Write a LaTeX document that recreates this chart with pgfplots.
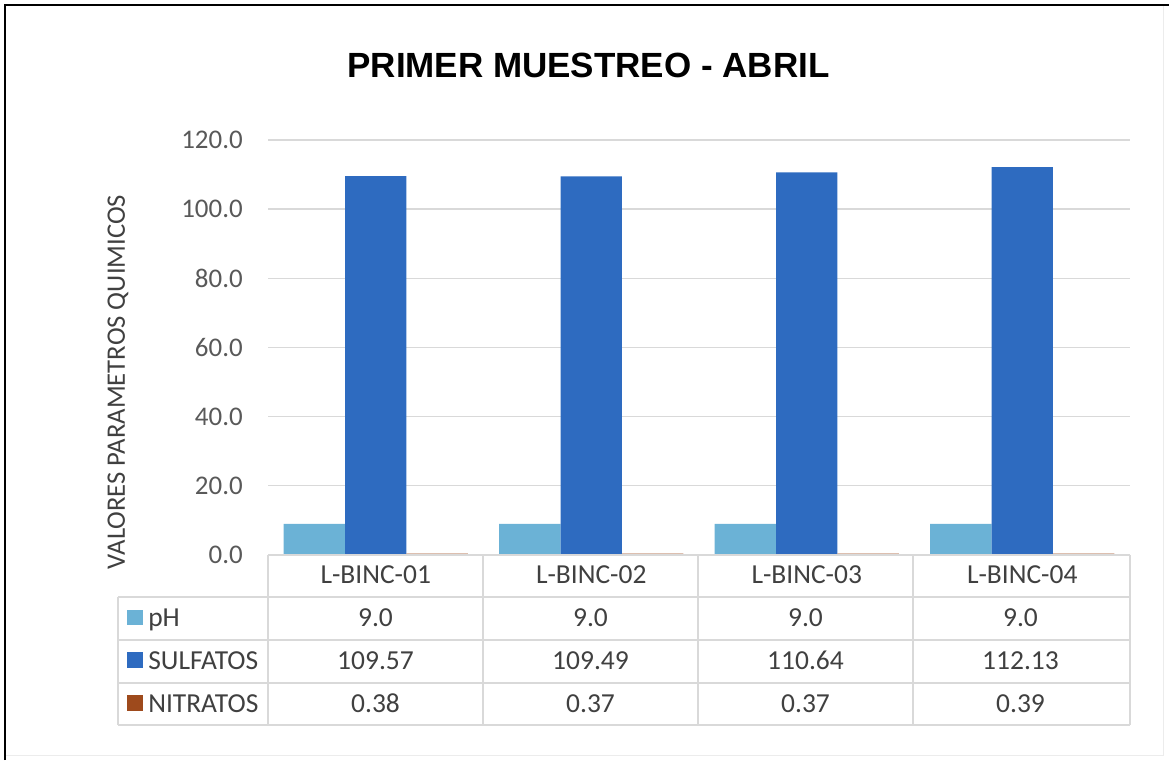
\documentclass[border=0pt]{standalone}
\usepackage{fontspec}
\setmainfont{Carlito}
\newfontfamily\titlefont{Liberation Sans}
\usepackage{pgfplots}
\usepackage{pgfplotstable}
\pgfplotsset{compat=1.18}
\definecolor{phc}{HTML}{6BB2D6}
\definecolor{sulc}{HTML}{2E6BC0}
\definecolor{nitc}{HTML}{9E4A1C}
\definecolor{gridc}{HTML}{D9D9D9}
\definecolor{txtc}{HTML}{404040}
\definecolor{tickc}{HTML}{595959}

\pgfplotstableread{
x ph sulf nitr
0 9.0 109.57 0.38
1 9.0 109.49 0.37
2 9.0 110.64 0.37
3 9.0 112.13 0.39
}\datos

\begin{document}
\begin{tikzpicture}[x=0.75pt,y=0.75pt]
\path[use as bounding box] (0,0) rectangle (1169,760);
% chart frame
\draw[gridc!50, line width=0.75pt] (5,5) -- (1163,5) -- (1163,755);
\draw[black, line width=2pt] (5,0) -- (5,755) -- (1169,755);

\node[font=\titlefont\bfseries\fontsize{26.25}{30}\selectfont, anchor=base] at (588.5,{760-78}) {PRIMER MUESTREO - ABRIL};

\begin{axis}[
    at={(201pt,153.75pt)}, anchor=south west,
    scale only axis,
    width=646.5pt, height=311.25pt,
    xmin=-0.5, xmax=3.5,
    ymin=0, ymax=120,
    ytick distance=20,
    xtick={0,1,2,3},
    xticklabels={L-BINC-01, L-BINC-02, L-BINC-03, L-BINC-04},
    xticklabel style={anchor=base, yshift=-21pt, text=txtc, font=\fontsize{20.6}{24}\selectfont},
    yticklabel style={anchor=east, inner sep=0pt, xshift=-18.75pt, text=tickc, font=\fontsize{20.2}{24}\selectfont,
        /pgf/number format/.cd, fixed, zerofill, precision=1, assume math mode=true},
    axis line style={draw=none},
    major tick length=0pt,
    ymajorgrids,
    grid style={gridc, line width=1pt},
    ybar, bar width=0.285,
    clip=false,
]
\addplot[fill=phc, draw=none, bar shift=-0.285] table[x=x, y=ph] {\datos};
\addplot[fill=sulc, draw=none, bar shift=0] table[x=x, y=sulf] {\datos};
\addplot[fill=nitc, draw=none, bar shift=0.285] table[x=x, y=nitr] {\datos};
\end{axis}

% y label
\node[rotate=90, text=txtc, font=\fontsize{20}{24}\selectfont] at (118,{760-382}) {VALORES PARAMETROS QUIMICOS};

% data table grid
\begin{scope}[gridc, line width=0.9pt]
\draw (268,{760-555}) -- (1130,{760-555});
\foreach \yy in {597,640,683,725} \draw (118,{760-\yy}) -- (1130,{760-\yy});
\draw (118,{760-597}) -- (118,{760-725});
\foreach \xx in {268,483,698,913,1130} \draw (\xx,{760-555}) -- (\xx,{760-725});
\end{scope}

% row legend keys and names
\begin{scope}[font=\fontsize{20.6}{24}\selectfont, text=txtc]
\fill[phc] (127,{760-625}) rectangle (143,{760-610});
\node[anchor=base west, inner sep=0pt] at (148,{760-626}) {pH};
\fill[sulc] (127,{760-668}) rectangle (143,{760-652});
\node[anchor=base west, inner sep=0pt] at (148,{760-669}) {SULFATOS};
\fill[nitc] (127,{760-711}) rectangle (143,{760-695});
\node[anchor=base west, inner sep=0pt] at (148,{760-712}) {NITRATOS};
\foreach \r in {0,1,2,3} {
  \pgfmathsetmacro\cx{375.5+215*\r}
  \pgfplotstablegetelem{\r}{ph}\of\datos
  \node[anchor=base, inner sep=0pt] at (\cx,{760-626}) {\pgfplotsretval};
  \pgfplotstablegetelem{\r}{sulf}\of\datos
  \node[anchor=base, inner sep=0pt] at (\cx,{760-669}) {\pgfplotsretval};
  \pgfplotstablegetelem{\r}{nitr}\of\datos
  \node[anchor=base, inner sep=0pt] at (\cx,{760-712}) {\pgfplotsretval};
}
\end{scope}
\end{tikzpicture}
\end{document}
